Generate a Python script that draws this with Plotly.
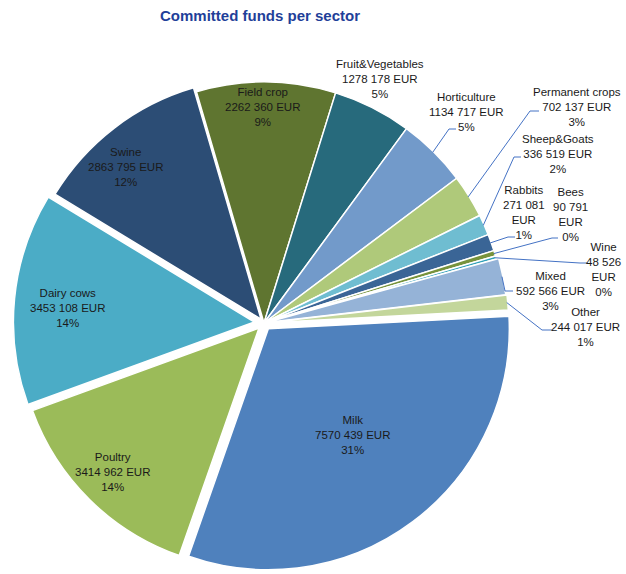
import math
import plotly.graph_objects as go

# ---- data -----------------------------------------------------------------
sectors = ["Milk", "Poultry", "Dairy cows", "Swine", "Field crop",
           "Fruit&Vegetables", "Horticulture", "Permanent crops",
           "Sheep&Goats", "Rabbits", "Bees", "Wine", "Mixed", "Other"]
funds = [7570439, 3414962, 3453108, 2863795, 2262360,
         1278178, 1134717, 702137,
         336519, 271081, 90791, 48526, 592566, 244017]
shares = ["31%", "14%", "14%", "12%", "9%",
          "5%", "5%", "3%",
          "2%", "1%", "0%", "0%", "3%", "1%"]

# ---- styling --------------------------------------------------------------
colors = ["#4F81BD", "#9BBB59", "#4BACC6", "#2C4D75", "#5F7530",
          "#276A7C", "#729ACA", "#AFC97A",
          "#6FBDD1", "#3A6596", "#77933C", "#31A0B8", "#95B3D7", "#C3D69B"]
pulls = [0.03, 0.03, 0.04, 0.02, 0.0,
         0.0, 0.0, 0.0,
         0.0, 0.0, 0.0, 0.0, 0.01, 0.015]
# label centre in pixels, and whether the amount is split over two lines
label_pos = [(352, 435), (112, 472), (67, 308), (125, 167), (262, 107),
             (380, 79), (466, 112), (577, 107),
             (558, 154), (524, 213), (570, 214), (603, 269), (550, 291), (585, 327)]
narrow = [False] * 9 + [True, True, True, False, False]
# leader lines: (start, elbow) in pixels, None where there is no line
leaders = [None, None, None, None, None,
           None, ((456, 129), (449, 129)), ((539, 111), (530, 111)),
           ((521, 157), (514, 157)), ((515, 237), (508, 237)),
           ((558, 238), (552, 238)), ((588, 263), (580, 263)),
           ((513, 291), (505, 291)), ((552, 330), (542, 330))]

W, H = 626, 574
CX, CY, R = 264, 323, 241       # pie centre and radius in pixels
ROT = 87                         # start angle of the first slice (clockwise from 12 o'clock)
FONT = "Liberation Sans, Arial, sans-serif"
TXT = "#1a1a1a"
LINE = "#4472C4"


def px(x):
    return x / W


def py(y):
    return 1 - y / H


half = R * (1 + max(pulls))
dom_x = [max(0, px(CX - half)), min(1, px(CX + half))]
dom_y = [max(0, py(CY + half)), min(1, py(CY - half))]

fig = go.Figure(go.Pie(
    labels=sectors, values=funds, sort=False, direction="clockwise",
    rotation=ROT, pull=pulls, textinfo="none", hoverinfo="skip",
    marker=dict(colors=colors, line=dict(color="white", width=1.5)),
    domain=dict(x=dom_x, y=dom_y), showlegend=False,
))


def fmt(v):
    # "# ###" style: only the last three digits are separated
    head, tail = divmod(v, 1000)
    return f"{head} {tail:03d}" if head else str(tail)


annotations = []
shapes = []
total = sum(funds)
cum = 0
for i, name in enumerate(sectors):
    v = funds[i]
    mid = ROT + (cum + v / 2) / total * 360
    cum += v
    if narrow[i]:
        text = f"{name}<br>{fmt(v)}<br>EUR<br>{shares[i]}"
    else:
        text = f"{name}<br>{fmt(v)} EUR<br>{shares[i]}"
    lx, ly = label_pos[i]
    annotations.append(dict(
        x=px(lx), y=py(ly), xref="paper", yref="paper", text=text,
        showarrow=False, xanchor="center", yanchor="middle", align="center",
        font=dict(family=FONT, size=11.5, color=TXT),
    ))
    if leaders[i] is not None:
        (sx, sy), (ex, ey) = leaders[i]
        rr = R * (1 + pulls[i]) - 1
        a = math.radians(mid)
        tx = CX + rr * math.sin(a)
        ty = CY - rr * math.cos(a)
        path = (f"M {px(sx)} {py(sy)} L {px(ex)} {py(ey)} "
                f"L {px(tx)} {py(ty)}")
        shapes.append(dict(type="path", path=path, xref="paper", yref="paper",
                           line=dict(color=LINE, width=1)))

annotations.append(dict(
    x=px(260), y=py(15), xref="paper", yref="paper",
    text="<b>Committed funds per sector</b>", showarrow=False,
    xanchor="center", yanchor="middle",
    font=dict(family=FONT, size=15, color="#1F3F99"),
))

fig.update_layout(
    width=W, height=H, autosize=False,
    margin=dict(l=0, r=0, t=0, b=0),
    paper_bgcolor="white", plot_bgcolor="white",
    annotations=annotations, shapes=shapes,
)

fig.write_html("out.html")
